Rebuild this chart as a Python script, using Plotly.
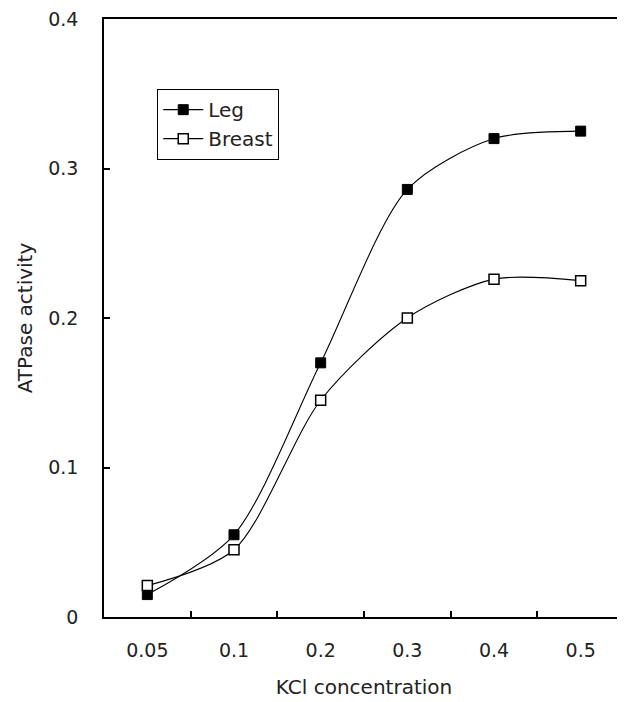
import plotly.graph_objects as go

categories = ["0.05", "0.1", "0.2", "0.3", "0.4", "0.5"]
leg_values = [0.015, 0.055, 0.170, 0.286, 0.320, 0.325]
breast_values = [0.021, 0.045, 0.145, 0.200, 0.226, 0.225]
y_ticks = [0, 0.1, 0.2, 0.3, 0.4]
y_tick_labels = ["0", "0.1", "0.2", "0.3", "0.4"]

FONT = "DejaVu Sans, Liberation Sans, sans-serif"

fig = go.Figure()
fig.add_trace(go.Scatter(
    x=categories, y=leg_values, name="Leg", mode="lines+markers",
    line=dict(color="black", width=1.1, shape="spline", smoothing=0.8),
    marker=dict(symbol="square", size=10, color="black", line=dict(color="black", width=1)),
))
fig.add_trace(go.Scatter(
    x=categories, y=breast_values, name="Breast", mode="lines+markers",
    line=dict(color="black", width=1.1, shape="spline", smoothing=0.8),
    marker=dict(symbol="square", size=10, color="white", line=dict(color="black", width=1.5)),
))

fig.update_layout(
    width=617, height=694,
    margin=dict(l=96, r=1, t=11, b=85, autoexpand=False),
    paper_bgcolor="white", plot_bgcolor="white",
    font=dict(family=FONT, size=19, color="#222"),
    legend=dict(
        x=0.102, y=0.883, xanchor="left", yanchor="top",
        bordercolor="black", borderwidth=1.2, bgcolor="white",
        font=dict(size=20), itemwidth=40, tracegroupgap=0,
    ),
    showlegend=True,
)
fig.update_xaxes(
    type="category", range=[-0.5, 5.5], automargin=False,
    tickson="boundaries", ticks="inside", ticklen=6, tickcolor="black", tickwidth=1.5,
    showline=True, linecolor="black", linewidth=1.5, mirror=True,
    showgrid=False, zeroline=False, ticklabeloverflow="allow",
    ticklabelstandoff=15,
    title=dict(text="KCl concentration", font=dict(size=20), standoff=20),
)
fig.update_yaxes(
    range=[0, 0.4], tickvals=y_ticks, ticktext=y_tick_labels, automargin=False,
    ticks="inside", ticklen=6, tickcolor="black", tickwidth=1.5,
    showline=True, linecolor="black", linewidth=1.5, mirror=True,
    showgrid=False, zeroline=False, ticklabeloverflow="allow",
    ticklabelstandoff=20,
    title=dict(text="ATPase activity", font=dict(size=20), standoff=10),
)

fig.write_html("out.html")
